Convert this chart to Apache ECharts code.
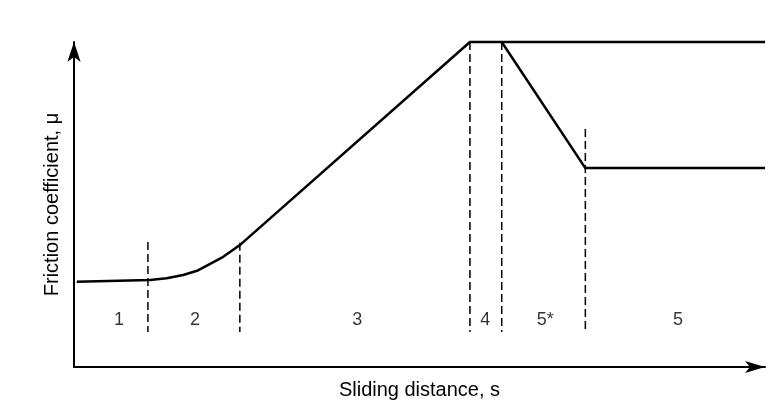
<!DOCTYPE html>
<html>
<head>
<meta charset="utf-8">
<script src="https://cdn.jsdelivr.net/npm/echarts@6/dist/echarts.min.js"></script>
<style>
  html, body { margin: 0; padding: 0; background: #ffffff; }
  #chart { width: 780px; height: 407px; }
</style>
</head>
<body>
<div id="chart"></div>
<script>
// Friction coefficient vs sliding distance (schematic, relative units 0-100)

// Main curve: running-in, rise, steady plateau
const mainX = [0.4, 11.0, 13.4, 15.8, 17.8, 19.7, 21.6, 23.5, 24.0, 57.3, 100];
const mainY = [26.2, 26.8, 27.3, 28.3, 29.6, 31.7, 33.9, 36.8, 37.5, 100, 100];

// Alternative branch: drop after stage 4 to a lower plateau
const branchX = [61.9, 74.0, 100];
const branchY = [100, 61.2, 61.2];

// Stage boundaries (dashed verticals)
const boundaryX = [10.7, 24.0, 57.3, 61.9, 74.0];
const boundaryTop = [38.5, 38.2, 100, 100, 73.2];
const boundaryBottom = [10.8, 10.8, 10.8, 10.8, 10.8];

// Stage labels
const stageNames = ['1', '2', '3', '4', '5*', '5'];
const stageX = [6.5, 17.5, 41.0, 59.5, 68.2, 87.4];
const stageY = [14.5, 14.5, 14.5, 14.5, 14.5, 14.5];

const font = 'Liberation Sans, Arial, sans-serif';
const zip = (xs, ys) => xs.map((x, i) => [x, ys[i]]);

const series = [
  {
    type: 'line',
    data: zip(mainX, mainY),
    showSymbol: false,
    clip: false,
    lineStyle: { color: '#000', width: 2.5, join: 'round' },
    z: 3
  },
  {
    type: 'line',
    data: zip(branchX, branchY),
    showSymbol: false,
    clip: false,
    lineStyle: { color: '#000', width: 2.5, join: 'round' },
    z: 3
  }
];

boundaryX.forEach((x, i) => {
  series.push({
    type: 'line',
    data: [[x, boundaryTop[i]], [x, boundaryBottom[i]]],
    showSymbol: false,
    clip: false,
    lineStyle: { color: '#000', width: 1.5, type: [8, 4] },
    z: 2
  });
});

series.push({
  type: 'scatter',
  symbolSize: 0,
  data: stageNames.map((n, i) => ({ name: n, value: [stageX[i], stageY[i]] })),
  label: {
    show: true,
    position: 'inside',
    formatter: '{b}',
    color: '#000',
    fontSize: 18,
    fontFamily: font
  }
});

const chart = echarts.init(document.getElementById('chart'), null, { renderer: 'canvas' });
chart.setOption({
  backgroundColor: '#ffffff',
  animation: false,
  grid: { left: 74, right: 15, top: 42, bottom: 40 },
  xAxis: {
    type: 'value',
    min: 0,
    max: 100,
    name: 'Sliding distance, s',
    nameLocation: 'middle',
    nameGap: 13,
    nameTextStyle: { color: '#000', fontSize: 20, fontFamily: font },
    axisLine: {
      show: true,
      symbol: ['none', 'arrow'],
      symbolSize: [9, 20],
      lineStyle: { color: '#000', width: 2 }
    },
    axisTick: { show: false },
    axisLabel: { show: false },
    splitLine: { show: false }
  },
  yAxis: {
    type: 'value',
    min: 0,
    max: 100,
    name: 'Friction coefficient, μ',
    nameLocation: 'middle',
    nameGap: 12,
    nameTextStyle: { color: '#000', fontSize: 20, fontFamily: font, padding: [0, 0, 0, 0] },
    axisLine: {
      show: true,
      symbol: ['none', 'arrow'],
      symbolSize: [10, 20],
      lineStyle: { color: '#000', width: 2 }
    },
    axisTick: { show: false },
    axisLabel: { show: false },
    splitLine: { show: false }
  },
  series: series
});
</script>
</body>
</html>
